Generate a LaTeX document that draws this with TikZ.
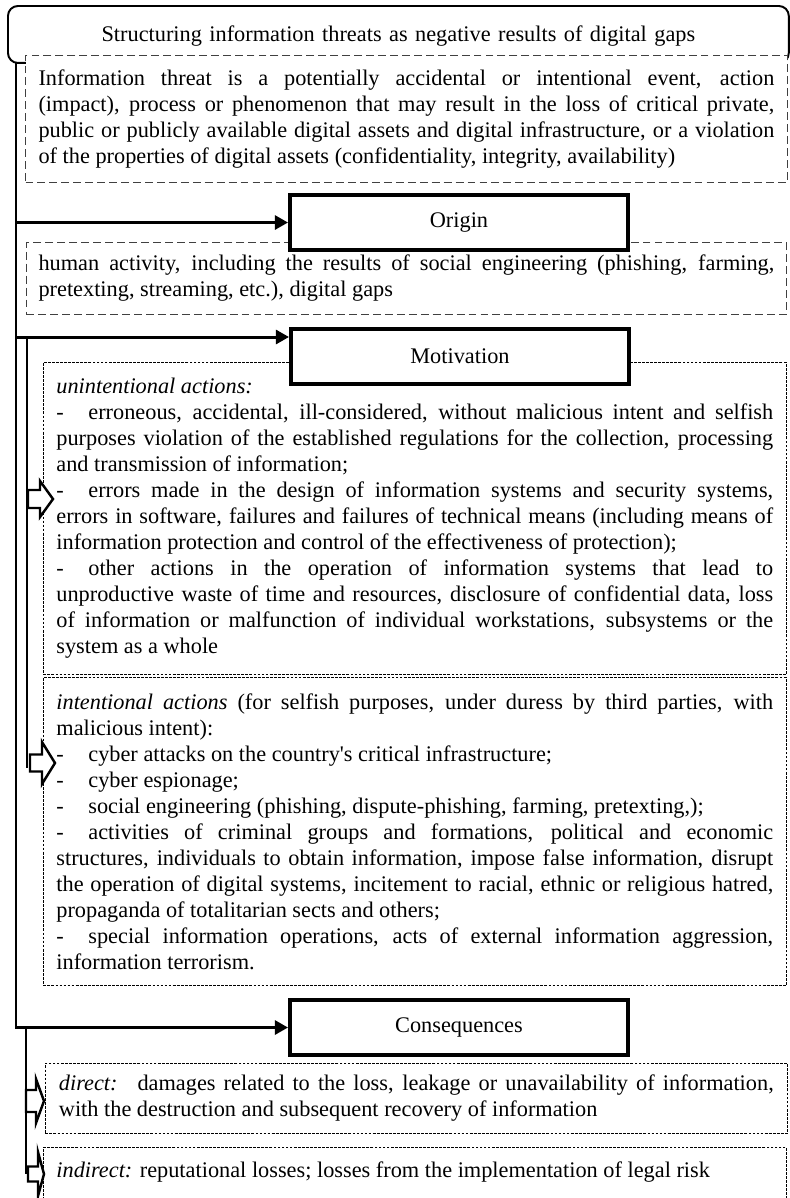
\documentclass[tikz,border=0pt]{standalone}
\usepackage{fontspec}
\setmainfont{Liberation Serif}
\usetikzlibrary{arrows.meta}
\setlength{\parindent}{0pt}
\newcommand{\itemdash}{\makebox[0.64cm][l]{-}}

\begin{document}
\begin{tikzpicture}[x=0.02cm, y=-0.02cm,
  every node/.style={font=\fontsize{12.7pt}{14.8pt}\selectfont, inner sep=0pt},
  headbox/.style={draw, line width=2.3pt, fill=white, minimum width=6.76cm,
    minimum height=1.1cm, anchor=north west},
  looseframe/.style={draw=black!75, line width=0.6pt, dash pattern=on 4.5pt off 2.3pt,
    fill=white, align=justify, anchor=north west},
  tightframe/.style={draw, line width=0.45pt, dash pattern=on 1.6pt off 0.7pt,
    fill=white, align=justify, anchor=north west},
  trunk/.style={line width=1.7pt},
  hollow/.style={draw, line width=1.4pt, fill=white, line join=miter},
  tip/.style={-{Triangle[length=7.5pt, width=8pt]}}]
  \useasboundingbox (0,0) rectangle (790,1198);
  \clip (0,0) rectangle (790,1198);
  % title and definition
  \node[draw, line width=1.1pt, rounded corners=0.2cm, anchor=north west,
    text width=15.62cm, align=center, text height=0.72cm, text depth=0.42cm]
    (title) at (7,5) {Structuring information threats as negative results of digital gaps};
  \node[looseframe, text width=14.72cm, inner xsep=0.26cm, minimum height=2.54cm]
    (defn) at (25,55) {Information threat is a potentially accidental or intentional event, action\linebreak
    (impact), process or phenomenon that may result in the loss of critical private,\linebreak
    public or publicly available digital assets and digital infrastructure, or a violation\linebreak
    of the properties of digital assets (confidentiality, integrity, availability)};
  % origin
  \node[looseframe, text width=14.72cm, inner xsep=0.24cm, minimum height=1.44cm]
    (origtext) at (26,242) {human activity, including the results of social engineering (phishing, farming,\linebreak
    pretexting, streaming, etc.), digital gaps};
  \node[headbox] (origin) at (288,193) {Origin};
  % motivation
  \node[tightframe, text width=14.34cm, inner xsep=0.26cm, minimum height=6.24cm]
    (unint) at (43,362) {\textit{unintentional actions:}\par
    \itemdash erroneous, accidental, ill-considered, without malicious intent and selfish\linebreak
    purposes violation of the established regulations for the collection, processing\linebreak
    and transmission of information;\par
    \itemdash errors made in the design of information systems and security systems,\linebreak
    errors in software, failures and failures of technical means (including means of\linebreak
    information protection and control of the effectiveness of protection);\par
    \itemdash other actions in the operation of information systems that lead to\linebreak
    unproductive waste of time and resources, disclosure of confidential data, loss\linebreak
    of information or malfunction of individual workstations, subsystems or the\linebreak
    system as a whole};
  \node[tightframe, text width=14.34cm, inner xsep=0.26cm, minimum height=6.16cm]
    (intent) at (43,677) {\textit{intentional actions} (for selfish purposes, under duress by third parties, with\linebreak
    malicious intent):\par
    \itemdash cyber attacks on the country\textquotesingle s critical infrastructure;\par
    \itemdash cyber espionage;\par
    \itemdash social engineering (phishing, dispute-phishing, farming, pretexting,);\par
    \itemdash activities of criminal groups and formations, political and economic\linebreak
    structures, individuals to obtain information, impose false information, disrupt\linebreak
    the operation of digital systems, incitement to racial, ethnic or religious hatred,\linebreak
    propaganda of totalitarian sects and others;\par
    \itemdash special information operations, acts of external information aggression,\linebreak
    information terrorism.};
  \node[headbox] (motiv) at (289,327) {Motivation};
  % consequences
  \node[headbox] (conseq) at (288,998) {Consequences};
  \node[tightframe, text width=14.3cm, inner xsep=0.27cm, minimum height=1.4cm]
    (direct) at (45,1063) {\textit{direct:}\hspace{0.15cm} damages related to the loss, leakage or unavailability of information,\linebreak
    with the destruction and subsequent recovery of information};
  \node[tightframe, text width=14.34cm, inner xsep=0.26cm, text height=0.6cm, text depth=1.5cm]
    (indirect) at (43,1147) {\textit{indirect:} reputational losses; losses from the implementation of legal risk};
  % connectors
  \coordinate (trunktop) at (16,62);
  \coordinate (motivjoin) at (16,337);
  \coordinate (motivend) at (27,768);
  \coordinate (conseqend) at (26,1174);
  \draw[trunk, tip] (trunktop) |- (conseq.west);
  \draw[trunk, tip] (trunktop |- origin.west) -- (origin.west);
  \draw[trunk, tip] (motivjoin) -- (motivjoin -| motiv.west);
  \draw[trunk] (motivjoin -| motivend) -- (motivend);
  \draw[trunk] (conseqend |- conseq.west) -- (conseqend);
  \foreach \tx/\ty/\hl/\hh/\sl/\sh in {53/499/13/18/12/9, 55/763/13/21/12/8.5,
      44/1101/8/22/10/11, 44/1174/6/22/10/7.5}
    \draw[hollow] (\tx,\ty) -- ++(-\hl,-\hh) -- ++(0,\hh-\sh) -- ++(-\sl,0)
      -- ++(0,2*\sh) -- ++(\sl,0) -- ++(0,\hh-\sh) -- cycle;
\end{tikzpicture}
\end{document}
